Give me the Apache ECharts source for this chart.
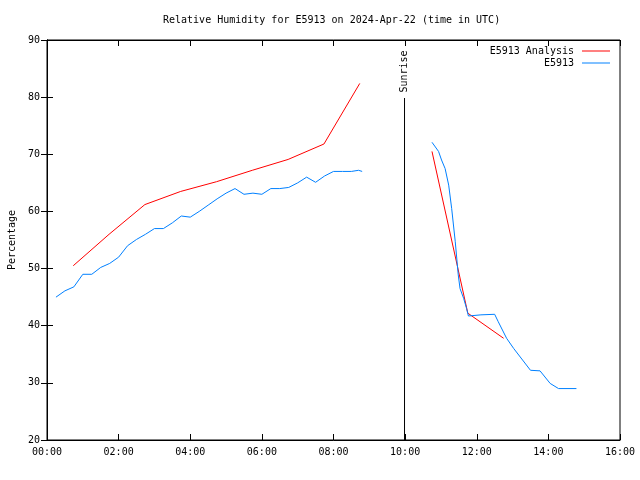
<!DOCTYPE html>
<html>
<head>
<meta charset="utf-8">
<script src="https://cdn.jsdelivr.net/npm/echarts@6/dist/echarts.min.js"></script>
<style>html,body{margin:0;padding:0;background:#fff}#c{width:640px;height:480px}</style>
</head>
<body>
<div id="c"></div>
<script>
// ---- data ----
const titleText = 'Relative Humidity for E5913 on 2024-Apr-22 (time in UTC)';
const yAxisName = 'Percentage';
const analysisName = 'E5913 Analysis';
const obsName = 'E5913';
const sunriseLabel = 'Sunrise';
const sunriseTime = '09:59';
const sunriseTop = 79.85;

const obsTimes1 = ['00:15','00:30','00:45','01:00','01:15','01:30','01:45','02:00','02:15','02:30','02:45',
  '03:00','03:15','03:30','03:45','04:00','04:15','04:30','04:45','05:00','05:15','05:30','05:45',
  '06:00','06:15','06:30','06:45','07:00','07:15','07:30','07:45','08:00','08:15','08:30','08:42','08:48'];
const obsValues1 = [45.0,46.1,46.8,49.0,49.0,50.2,50.9,52.0,54.0,55.1,56.0,
  57.0,57.0,58.0,59.2,59.0,60.0,61.1,62.2,63.2,64.0,63.0,63.2,
  63.0,64.0,64.0,64.2,65.0,66.0,65.1,66.2,67.0,67.0,67.0,67.2,67.0];

const obsTimes2 = ['10:45','10:56','11:01','11:07','11:13','11:18','11:24','11:29','11:32','11:38','11:43','11:46',
  '12:07','12:30','12:36','12:50','13:02','13:30','13:46','14:03','14:17','14:47'];
const obsValues2 = [72.1,70.5,69.0,67.5,64.6,60.5,54.7,48.9,46.5,44.8,43.0,41.7,
  41.9,42.0,40.7,37.8,36.0,32.2,32.1,29.9,29.0,29.0];

const anaTimes1 = ['00:44','01:44','02:44','03:44','04:44','05:44','06:44','07:44','08:44'];
const anaValues1 = [50.5,56.0,61.2,63.5,65.2,67.2,69.1,71.8,82.4];
const anaTimes2 = ['10:45','11:45','12:45'];
const anaValues2 = [70.5,42.2,37.8];

const xTickLabels = ['00:00','02:00','04:00','06:00','08:00','10:00','12:00','14:00','16:00'];

// ---- helpers ----
function hrs(s){const p=s.split(':');return +p[0]+(+p[1])/60;}
function pairs(ts,vs){return ts.map((t,i)=>[hrs(t),vs[i]]);}

const FONT = 'DejaVu Sans Mono';
const RED = '#ff0000', BLUE = '#0080ff';

const chart = echarts.init(document.getElementById('c'), null, {renderer:'canvas'});
const axisCommon = {
  axisLine:{show:true,lineStyle:{color:'#000',width:1}},
  axisTick:{show:true,inside:true,length:6,lineStyle:{color:'#000'}},
  splitLine:{show:false}
};
const sx = hrs(sunriseTime);
chart.setOption({
  animation:false,
  backgroundColor:'#fff',
  textStyle:{fontFamily:FONT},
  title:{text:titleText,left:158,top:10,textStyle:{fontFamily:FONT,fontSize:10,fontWeight:'normal',color:'#000'}},
  legend:{
    orient:'vertical',right:25,top:40,align:'right',itemWidth:28,itemHeight:1,itemGap:0,icon:'rect',
    data:[analysisName,obsName],
    textStyle:{fontFamily:FONT,fontSize:10,color:'#000',padding:[0,3,0,0],lineHeight:12}
  },
  grid:{left:47,right:20,top:40,bottom:40,show:true,borderColor:'#000',borderWidth:1,containLabel:false,outerBoundsMode:'none'},
  xAxis:[
    Object.assign({type:'value',min:0,max:16,interval:2,position:'bottom',
      axisLabel:{margin:7,fontFamily:FONT,fontSize:10,color:'#000',formatter:(v)=>xTickLabels[Math.round(v/2)]}},axisCommon),
    Object.assign({type:'value',min:0,max:16,interval:2,position:'top',axisLabel:{show:false}},axisCommon)
  ],
  yAxis:[
    Object.assign({type:'value',min:20,max:90,interval:10,position:'left',name:yAxisName,nameLocation:'middle',nameGap:30,nameRotate:90,
      nameTextStyle:{fontFamily:FONT,fontSize:10,color:'#000'},
      axisLabel:{margin:7,fontFamily:FONT,fontSize:10,color:'#000'}},axisCommon),
    Object.assign({type:'value',min:20,max:90,interval:10,position:'right',axisLabel:{show:false}},axisCommon)
  ],
  series:[
    {name:analysisName,type:'line',data:pairs(anaTimes1,anaValues1),showSymbol:false,symbol:'none',color:RED,lineStyle:{color:RED,width:1}},
    {name:analysisName,type:'line',data:pairs(anaTimes2,anaValues2),showSymbol:false,symbol:'none',color:RED,lineStyle:{color:RED,width:1}},
    {name:obsName,type:'line',data:pairs(obsTimes1,obsValues1),showSymbol:false,symbol:'none',color:BLUE,lineStyle:{color:BLUE,width:1}},
    {name:obsName,type:'line',data:pairs(obsTimes2,obsValues2),showSymbol:false,symbol:'none',color:BLUE,lineStyle:{color:BLUE,width:1}},
    {name:'sunrise',type:'line',silent:true,symbol:'circle',symbolSize:1,showSymbol:true,color:'#000',
      itemStyle:{color:'rgba(0,0,0,0)'},lineStyle:{color:'#000',width:1},
      labelLayout:{hideOverlap:false},
      data:[[sx,20],{value:[sx,sunriseTop],label:{show:true,position:'top',distance:5,rotate:90,align:'left',verticalAlign:'middle',
        formatter:sunriseLabel,fontFamily:FONT,fontSize:10,color:'#000'}}]}
  ]
});
</script>
</body>
</html>
